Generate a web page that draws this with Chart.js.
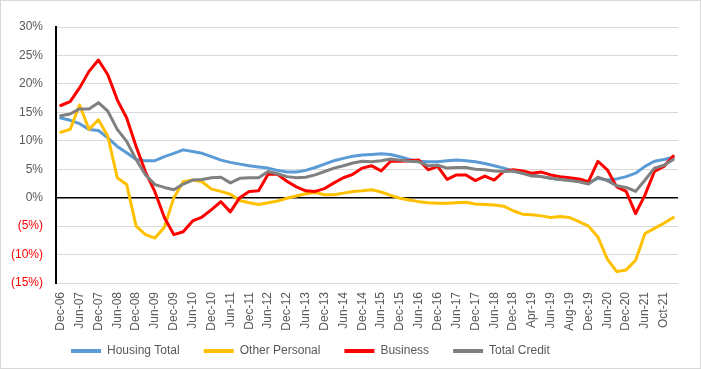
<!DOCTYPE html>
<html>
<head>
<meta charset="utf-8">
<script src="https://cdn.jsdelivr.net/npm/chart.js@4"></script>
<style>
  html, body { margin: 0; padding: 0; background: #fff; }
  #wrap { width: 701px; height: 369px; }
</style>
</head>
<body>
<div id="wrap"><canvas id="creditChart" width="701" height="369"></canvas></div>
<script>
  // quarterly to Dec-18, then the irregular dates that the source sheet used
  const categories = [
    'Dec-06', 'Mar-07', 'Jun-07', 'Sep-07', 'Dec-07', 'Mar-08', 'Jun-08', 'Sep-08', 'Dec-08', 'Mar-09',
    'Jun-09', 'Sep-09', 'Dec-09', 'Mar-10', 'Jun-10', 'Sep-10', 'Dec-10', 'Mar-11', 'Jun-11', 'Sep-11',
    'Dec-11', 'Mar-12', 'Jun-12', 'Sep-12', 'Dec-12', 'Mar-13', 'Jun-13', 'Sep-13', 'Dec-13', 'Mar-14',
    'Jun-14', 'Sep-14', 'Dec-14', 'Mar-15', 'Jun-15', 'Sep-15', 'Dec-15', 'Mar-16', 'Jun-16', 'Sep-16',
    'Dec-16', 'Mar-17', 'Jun-17', 'Sep-17', 'Dec-17', 'Mar-18', 'Jun-18', 'Sep-18', 'Dec-18', 'Feb-19',
    'Apr-19', 'May-19', 'Jun-19', 'Jul-19', 'Aug-19', 'Oct-19', 'Dec-19', 'Mar-20', 'Jun-20', 'Sep-20',
    'Dec-20', 'Mar-21', 'Jun-21', 'Aug-21', 'Oct-21', 'Dec-21'
  ];

  const housingTotal = [
    14.0, 13.6, 13.0, 12.0, 11.8, 10.5, 9.0, 7.9, 6.7, 6.5,
    6.5, 7.2, 7.8, 8.4, 8.1, 7.8, 7.2, 6.6, 6.2, 5.9,
    5.6, 5.4, 5.2, 4.8, 4.5, 4.5, 4.8, 5.3, 5.9, 6.5,
    6.9, 7.3, 7.5, 7.6, 7.7, 7.6, 7.2, 6.7, 6.4, 6.3,
    6.3, 6.5, 6.6, 6.5, 6.3, 6.0, 5.6, 5.2, 4.7, 4.3,
    4.0, 3.7, 3.4, 3.2, 3.1, 2.9, 2.6, 3.4, 3.1, 3.3,
    3.7, 4.3, 5.5, 6.4, 6.7, 7.1
  ];
  const otherPersonal = [
    11.5, 12.0, 16.3, 12.0, 13.7, 10.8, 3.5, 2.3, -5.0, -6.5,
    -7.1, -5.2, 0.0, 2.8, 3.1, 2.8, 1.5, 1.1, 0.6, -0.5,
    -0.9, -1.2, -0.9, -0.6, -0.1, 0.3, 0.7, 0.9, 0.5, 0.5,
    0.8, 1.1, 1.2, 1.4, 1.0, 0.4, -0.1, -0.4, -0.7, -0.9,
    -1.0, -1.0, -0.9, -0.8, -1.1, -1.2, -1.3, -1.5, -2.3, -2.9,
    -3.0, -3.2, -3.5, -3.3, -3.5, -4.2, -5.0, -6.9, -10.8, -13.0,
    -12.7, -11.0, -6.3, -5.4, -4.5, -3.5
  ];
  const business = [
    16.2, 16.9, 19.3, 22.2, 24.2, 21.6, 17.2, 14.0, 9.0, 4.5,
    1.0, -3.5, -6.5, -6.0, -4.1, -3.4, -2.1, -0.7, -2.5, 0.0,
    1.1, 1.2, 4.1, 4.1, 2.9, 1.9, 1.2, 1.1, 1.6, 2.6,
    3.5, 4.1, 5.2, 5.6, 4.7, 6.4, 6.4, 6.5, 6.6, 4.9,
    5.5, 3.2, 4.0, 4.0, 3.0, 3.8, 3.1, 4.6, 4.9, 4.7,
    4.3, 4.5, 4.0, 3.7, 3.5, 3.3, 2.8, 6.4, 4.9, 1.9,
    1.1, -2.8, 0.5, 4.6, 5.5, 7.3
  ];
  const totalCredit = [
    14.4, 14.7, 15.6, 15.6, 16.7, 15.2, 12.0, 9.9, 6.7, 4.0,
    2.3, 1.8, 1.4, 2.4, 3.1, 3.2, 3.5, 3.6, 2.6, 3.4,
    3.5, 3.5, 4.6, 4.2, 3.7, 3.5, 3.6, 4.0, 4.6, 5.2,
    5.6, 6.1, 6.4, 6.3, 6.5, 6.8, 6.6, 6.4, 6.3, 5.6,
    5.7, 5.2, 5.3, 5.3, 5.0, 4.9, 4.7, 4.6, 4.7, 4.3,
    3.8, 3.7, 3.4, 3.2, 3.0, 2.8, 2.4, 3.6, 3.0, 2.1,
    1.8, 1.1, 3.1, 5.2, 5.7, 6.7
  ];

  const yMin = -15;
  const yMax = 30;
  const yStep = 5;

  const series = [
    { label: 'Housing Total', data: housingTotal, color: '#5B9BD5' },
    { label: 'Other Personal', data: otherPersonal, color: '#FFC000' },
    { label: 'Business', data: business, color: '#FF0000' },
    { label: 'Total Credit', data: totalCredit, color: '#808080' }
  ];

  const greyText = '#595959';
  const redText = '#FF0000';

  // light frame round the whole chart, like the Excel chart border
  const frame = {
    id: 'frame',
    beforeDraw(chart) {
      const { ctx, width, height } = chart;
      ctx.save();
      ctx.fillStyle = '#fff';
      ctx.fillRect(0, 0, width, height);
      ctx.strokeStyle = '#d9d9d9';
      ctx.lineWidth = 1;
      ctx.strokeRect(0.5, 0.5, width - 1, height - 1);
      ctx.restore();
    }
  };

  // the legend row sits a bit left and higher than chart.js would put it
  const legendNudge = {
    id: 'legendNudge',
    afterLayout(chart) {
      const l = chart.legend;
      l.left += 47; l.right += 47;
      l.top -= 12; l.bottom -= 12;
    }
  };

  const ctx = document.getElementById('creditChart').getContext('2d');

  new Chart(ctx, {
    type: 'line',
    data: {
      labels: categories,
      datasets: series.map((s, i) => ({
        label: s.label,
        data: s.data,
        borderColor: s.color,
        backgroundColor: s.color,
        borderWidth: 3,
        pointRadius: 0,
        tension: 0,
        borderJoinStyle: 'round',
        borderCapStyle: 'round',
        order: series.length - i
      }))
    },
    options: {
      responsive: false,
      animation: false,
      layout: { padding: { left: 0, right: 23, top: 27, bottom: 0 } },
      plugins: {
        tooltip: { enabled: false },
        legend: {
          position: 'bottom',
          align: 'start',
          maxHeight: 36,
          labels: {
            boxWidth: 30,
            boxHeight: 4,
            padding: 24,
            color: greyText,
            font: { family: 'Arial, "Liberation Sans", sans-serif', size: 12 },
            sort: (a, b) => a.datasetIndex - b.datasetIndex,
            generateLabels(chart) {
              return Chart.defaults.plugins.legend.labels.generateLabels(chart).map(l => ({
                ...l, lineWidth: 0, fillStyle: l.strokeStyle
              }));
            }
          }
        }
      },
      scales: {
        x: {
          offset: true,
          grid: { display: false, drawTicks: false },
          border: { display: false },
          afterFit(scale) { scale.height = 50; },
          ticks: {
            autoSkip: false,
            minRotation: 90,
            maxRotation: 90,
            padding: 9,
            color: greyText,
            font: { family: 'Arial, "Liberation Sans", sans-serif', size: 12 },
            callback(value, index) {
              return index % 2 === 0 ? categories[index] : null;
            }
          }
        },
        y: {
          min: yMin,
          max: yMax,
          afterFit(scale) { scale.width = 56; },
          grid: {
            drawTicks: false,
            color: c => c.tick.value === 0 ? '#000' : '#d9d9d9',
            lineWidth: c => c.tick.value === 0 ? 1.5 : 1
          },
          border: { display: true, color: '#000', width: 2 },
          ticks: {
            stepSize: yStep,
            padding: 13,
            color: c => c.tick.value < 0 ? redText : greyText,
            font: { family: 'Arial, "Liberation Sans", sans-serif', size: 12 },
            callback: v => v < 0 ? '(' + (-v) + '%)' : v + '%'
          }
        }
      }
    },
    plugins: [frame, legendNudge]
  });
</script>
</body>
</html>
